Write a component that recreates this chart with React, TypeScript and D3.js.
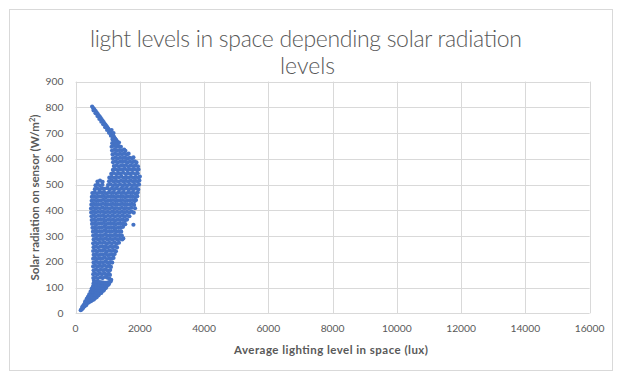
import React from "react";
import * as d3 from "d3";

const titleLines = ["light levels in space depending solar radiation", "levels"];
const xTitle = "Average lighting level in space (lux)";
const yTitleMain = "Solar radiation on sensor (W/m";
const xTicks = [0, 2000, 4000, 6000, 8000, 10000, 12000, 14000, 16000];
const yTicks = [0, 100, 200, 300, 400, 500, 600, 700, 800, 900];

const lowBranch: [number, number][] = [
[160,12],[185,15],[210,18],[230,21],[205,24],[250,25],[280,27],[240,30],[265,34],[300,34],[335,32],[290,40],[330,41],[370,40],[410,42],[300,46],[350,48],[395,47],[440,46],[480,47],[345,56],[390,55],[440,54],[490,53],[530,52],[570,54],[385,64],[430,65],[480,63],[530,62],[580,61],[625,60],[660,63],[425,74],[470,75],[520,73],[570,72],[620,71],[670,70],[715,70],[465,84],[510,85],[560,83],[610,82],[660,81],[710,80],[760,78],[800,79],[500,95],[550,94],[600,93],[650,92],[700,91],[750,90],[800,88],[850,87],[880,90],[540,104],[590,104],[640,102],[690,101],[740,100],[790,99],[840,97],[890,96],[940,98],[960,103],[555,115],[610,114],[660,112],[710,111],[760,110],[810,108],[860,107],[910,106],[960,108],[1010,110],[1040,114],[570,126],[630,124],[690,122],[750,121],[810,120],[870,119],[930,118],[990,119],[1050,121],[1090,124],[1110,130]
];

const cloud: [number, number][] = [
[550,137],[615,140],[690,136],[765,139],[840,137],[915,141],[990,138],[1050,135],
[548,152],[605,155],[675,151],[745,154],[820,152],[895,156],[965,151],[1035,153],[1070,149],
[560,167],[630,170],[700,166],[775,169],[850,168],[925,171],[1000,166],[1075,168],
[546,182],[610,185],[680,181],[755,184],[830,183],[905,186],[980,181],[1055,184],[1100,180],
[558,197],[625,200],[700,196],[775,199],[850,198],[925,201],[1000,196],[1075,199],[1140,197],
[547,212],[610,215],[680,211],[755,214],[830,213],[905,216],[980,211],[1055,214],[1125,212],[1180,215],
[560,227],[630,230],[700,226],[775,229],[850,228],[925,231],[1000,226],[1075,229],[1150,227],[1215,230],
[546,242],[610,245],[680,241],[755,244],[830,243],[905,246],[980,241],[1055,244],[1130,242],[1200,245],[1255,241],
[558,257],[625,260],[700,256],[775,259],[850,258],[925,261],[1000,256],[1075,259],[1150,257],[1225,260],[1290,256],
[547,272],[610,275],[680,271],[755,274],[830,273],[905,276],[980,271],[1055,274],[1130,272],[1205,275],[1280,271],[1350,274],
[560,287],[630,290],[700,286],[775,289],[850,288],[925,291],[1000,286],[1075,289],[1150,287],[1225,290],[1300,286],[1375,289],[1450,287],[1485,291],
[548,302],[615,305],[690,301],[765,304],[840,303],[915,306],[990,301],[1065,304],[1140,302],[1215,305],[1290,301],[1365,304],[1440,302],
[540,317],[600,320],[670,316],[745,319],[820,318],[895,321],[970,316],[1045,319],[1120,317],[1195,320],[1270,316],[1345,319],[1420,317],
[525,332],[590,335],[660,331],[735,334],[810,333],[885,336],[960,331],[1035,334],[1110,332],[1185,335],[1260,331],[1335,334],[1410,332],[1475,336],
[512,347],[580,350],[650,346],[725,349],[800,348],[875,351],[950,346],[1025,349],[1100,347],[1175,350],[1250,346],[1325,349],[1400,347],[1475,350],[1545,346],[1800,344],
[502,362],[570,365],[640,361],[715,364],[790,363],[865,366],[940,361],[1015,364],[1090,362],[1165,365],[1240,361],[1315,364],[1390,362],[1465,365],[1540,361],[1600,364],
[494,377],[560,380],[630,376],[705,379],[780,378],[855,381],[930,376],[1005,379],[1080,377],[1155,380],[1230,376],[1305,379],[1380,377],[1455,380],[1530,376],[1605,379],[1675,377],
[485,392],[550,395],[620,391],[695,394],[770,393],[845,396],[920,391],[995,394],[1070,392],[1145,395],[1220,391],[1295,394],[1370,392],[1445,395],[1520,391],[1595,394],[1670,392],[1745,395],[1810,391],
[480,407],[545,410],[615,406],[690,409],[765,408],[840,411],[915,406],[990,409],[1065,407],[1140,410],[1215,406],[1290,409],[1365,407],[1440,410],[1515,406],[1590,409],[1665,407],[1740,410],[1850,408],
[490,422],[560,425],[630,421],[705,424],[780,423],[855,426],[930,421],[1005,424],[1080,422],[1155,425],[1230,421],[1305,424],[1380,422],[1455,425],[1530,421],[1605,424],[1680,422],[1755,425],[1820,421],
[500,437],[570,440],[640,436],[715,439],[790,438],[865,441],[940,436],[1015,439],[1090,437],[1165,440],[1240,436],[1315,439],[1390,437],[1465,440],[1540,436],[1615,439],[1690,437],[1765,440],[1840,436],[1880,440],
[505,452],[575,455],[645,451],[720,454],[795,453],[870,456],[945,451],[1020,454],[1095,452],[1170,455],[1245,451],[1320,454],[1395,452],[1470,455],[1545,451],[1620,454],[1695,452],[1770,455],[1845,451],[1920,455],
[520,467],[590,470],[660,466],[735,469],[810,468],[885,471],[960,466],[1035,469],[1110,467],[1185,470],[1260,466],[1335,469],[1410,467],[1485,470],[1560,466],[1635,469],[1710,467],[1785,470],[1860,466],[1935,469],
[600,482],[670,485],[740,481],[815,484],[890,483],[980,486],[1055,481],[1130,484],[1205,482],[1280,485],[1355,481],[1430,484],[1505,482],[1580,485],[1655,481],[1730,484],[1805,482],[1880,485],[1950,481],
[620,497],[690,500],[760,496],[835,499],[1010,498],[1085,501],[1160,496],[1235,499],[1310,497],[1385,500],[1460,496],[1535,499],[1610,497],[1685,500],[1760,496],[1835,499],[1910,497],[1975,500],
[680,512],[760,515],[840,511],[1040,513],[1115,516],[1190,511],[1265,514],[1340,512],[1415,515],[1490,511],[1565,514],[1640,512],[1715,515],[1790,511],[1865,514],[1940,512],[1985,516],
[1050,527],[1125,530],[1200,526],[1275,529],[1350,528],[1425,531],[1500,526],[1575,529],[1650,527],[1725,530],[1800,526],[1875,529],[1950,527],[2000,531],
[1110,542],[1185,545],[1260,541],[1335,544],[1410,543],[1485,546],[1560,541],[1635,544],[1710,542],[1785,545],[1860,541],[1935,544],
[1160,557],[1235,560],[1310,556],[1385,559],[1460,558],[1535,561],[1610,556],[1685,559],[1760,557],[1835,560],[1910,556],[1960,559],
[1190,572],[1265,575],[1340,571],[1415,574],[1490,573],[1565,576],[1640,571],[1715,574],[1790,572],[1865,575],[1940,571],
[1165,587],[1240,590],[1315,586],[1390,589],[1465,588],[1540,591],[1615,586],[1690,589],[1765,587],[1840,590],[1895,586],
[1160,602],[1235,605],[1310,601],[1385,604],[1460,603],[1535,606],[1610,601],[1685,604],[1760,602],[1800,606],
[1150,617],[1225,620],[1300,616],[1375,619],[1450,618],[1525,621],[1600,616],[1650,620],
[1135,632],[1210,635],[1285,631],[1360,634],[1435,633],[1510,636],[1550,631],
[1120,647],[1195,650],[1270,646],[1345,649],[1410,647],
[1140,661],[1215,664],[1290,660],[1350,663]
];

const topBranch: [number, number][] = [
[515,803],[545,797],[575,793],[600,788],[630,784],[660,779],[690,774],[720,768],[750,764],[780,758],[810,753],[840,748],[870,743],[900,737],[930,732],[960,727],[990,722],[1020,716],[1050,711],[1080,706],[1110,700],[1140,695],[1170,690],[1200,684],[1230,679],[1260,674],[1290,668],[1320,663],
[560,788],[620,777],[680,766],[740,755],[800,744],[860,734],[920,723],[980,712],[1040,701],[1100,690],[1160,680],[1220,669],[1280,658],
[1150,675],[1200,668],[1250,655],[1180,700],[1120,712]
];

const BLUE = "#4472C4";
const GRID = "#D9D9D9";
const TXT = "#595959";

export default function App() {
  const x = d3.scaleLinear().domain([0, 16000]).range([75.6, 589.6]);
  const y = d3.scaleLinear().domain([0, 900]).range([313.3, 81.6]);
  const all = [...lowBranch, ...cloud, ...topBranch];
  const font = "Lato, 'Open Sans', sans-serif";
  return (
    <svg width={622} height={382} style={{ position: "absolute", left: 0, top: 0, background: "#fff" }}>
      <rect x={9.5} y={9.5} width={603} height={361} fill="#fff" stroke={GRID} />
      {yTicks.map((t) => (
        <line key={"h" + t} x1={x(0)} x2={x(16000)} y1={Math.round(y(t)) + 0.5} y2={Math.round(y(t)) + 0.5} stroke={GRID} strokeWidth={1} />
      ))}
      {xTicks.map((t) => (
        <line key={"v" + t} x1={Math.round(x(t)) + 0.5} x2={Math.round(x(t)) + 0.5} y1={y(0)} y2={y(900)} stroke={GRID} strokeWidth={1} />
      ))}
      {yTicks.map((t) => (
        <text key={"yl" + t} x={63.5} y={y(t) + 3.6} textAnchor="end" fontFamily={font} fontSize={10.3} fill={TXT}>{t}</text>
      ))}
      {xTicks.map((t) => (
        <text key={"xl" + t} x={x(t)} y={332} textAnchor="middle" fontFamily={font} fontSize={10.3} fill={TXT}>{t}</text>
      ))}
      <g fill={BLUE}>
        {all.map((p, i) => (
          <circle key={i} cx={x(p[0])} cy={y(p[1])} r={2.1} />
        ))}
      </g>
      <text x={306} y={46.5} textAnchor="middle" fontFamily={font} fontWeight={300} fontSize={23} fill={TXT} textLength={432} lengthAdjust="spacing">{titleLines[0]}</text>
      <text x={307.5} y={73.5} textAnchor="middle" fontFamily={font} fontWeight={300} fontSize={23} fill={TXT}>{titleLines[1]}</text>
      <text x={331} y={353.5} textAnchor="middle" fontFamily={font} fontWeight={700} fontSize={11.5} fill={TXT} textLength={194} lengthAdjust="spacing">{xTitle}</text>
      <text transform={`translate(38.5,197.5) rotate(-90)`} textAnchor="middle" fontFamily={font} fontWeight={700} fontSize={11.5} fill={TXT}>
        {yTitleMain}<tspan fontSize={7.5} dy={-4}>2</tspan><tspan dy={4}>)</tspan>
      </text>
    </svg>
  );
}
